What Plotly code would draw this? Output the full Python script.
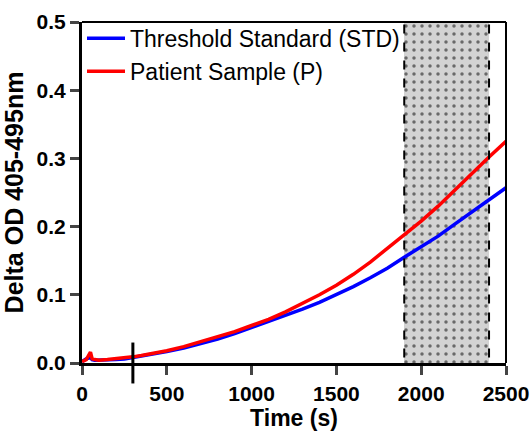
import plotly.graph_objects as go

time_s = [0, 25, 50, 60, 75, 100, 150, 200, 250, 300, 350, 400, 450, 500, 600, 700, 800, 900, 1000,
          1100, 1200, 1300, 1400, 1500, 1600, 1700, 1800, 1900, 2000, 2100, 2200, 2300, 2400, 2500]
std_vals = [0.002, 0.006, 0.008, 0.005, 0.004, 0.004, 0.004, 0.005, 0.006, 0.008, 0.010, 0.012, 0.015,
            0.017, 0.022, 0.028, 0.035, 0.043, 0.052, 0.060, 0.069, 0.079, 0.089, 0.100, 0.112, 0.125,
            0.139, 0.155, 0.170, 0.186, 0.204, 0.222, 0.239, 0.257]
p_vals = [0.002, 0.005, 0.016, 0.006, 0.005, 0.004, 0.005, 0.006, 0.007, 0.009, 0.011, 0.013, 0.016,
          0.018, 0.024, 0.031, 0.039, 0.046, 0.055, 0.064, 0.075, 0.087, 0.100, 0.114, 0.130, 0.148,
          0.168, 0.189, 0.208, 0.230, 0.254, 0.279, 0.302, 0.325]
band = [1900, 2400]
marker_time = 300
x_ticks = [0, 500, 1000, 1500, 2000, 2500]
y_ticks = [0.0, 0.1, 0.2, 0.3, 0.4, 0.5]
y_tick_text = ["0.0", "0.1", "0.2", "0.3", "0.4", "0.5"]

FONT = "Liberation Sans, Arial, sans-serif"

fig = go.Figure()
# shaded dotted band
fig.add_trace(go.Bar(
    x=[(band[0] + band[1]) / 2], y=[0.5], base=0, width=[band[1] - band[0]],
    marker=dict(color="#d3d3d3", line=dict(width=0),
                pattern=dict(shape=".", fgcolor="black", bgcolor="#d3d3d3", size=8, solidity=0.15)),
    showlegend=False, hoverinfo="skip"))
fig.add_trace(go.Scatter(x=time_s, y=std_vals, mode="lines", name="Threshold Standard (STD)",
                         line=dict(color="#0000ff", width=3.5), legendgroup="a"))
fig.add_trace(go.Scatter(x=time_s, y=p_vals, mode="lines", name="Patient Sample (P)",
                         line=dict(color="#ff0000", width=3.5), legendgroup="b"))

for bx in band:
    fig.add_shape(type="line", x0=bx, x1=bx, y0=0.008, y1=0.5, xref="x", yref="y",
                  line=dict(color="black", width=2, dash="dash"))
fig.add_shape(type="line", x0=marker_time, x1=marker_time, y0=-0.06, y1=0.06, xref="x", yref="paper",
              line=dict(color="black", width=3))
# top & right borders
fig.add_shape(type="line", x0=0, x1=1, y0=1, y1=1, xref="paper", yref="paper",
              line=dict(color="black", width=2))
fig.add_shape(type="line", x0=1, x1=1, y0=0, y1=1, xref="paper", yref="paper",
              line=dict(color="black", width=2))

fig.update_layout(
    width=530, height=445,
    margin=dict(l=82, r=24, t=22, b=82, autoexpand=False),
    plot_bgcolor="white", paper_bgcolor="white",
    font=dict(family=FONT, color="black"),
    bargap=0,
    legend=dict(x=0.0, y=1.015, xanchor="left", yanchor="top", bgcolor="rgba(0,0,0,0)",
                font=dict(size=23, family=FONT), itemwidth=38, tracegroupgap=0,
                traceorder="normal"),
    xaxis=dict(range=[0, 2500], tickvals=x_ticks, ticks="outside", ticklen=9, tickwidth=3,
               showline=True, linewidth=3, linecolor="black", showgrid=False, zeroline=False,
               automargin=False, ticklabelstandoff=1,
               tickfont=dict(size=21, family=FONT, weight="bold"),
               title=dict(text="Time (s)", font=dict(size=23, family=FONT, weight="bold"), standoff=1)),
    yaxis=dict(range=[0, 0.5], tickvals=y_ticks, ticktext=y_tick_text, ticks="outside", ticklen=9,
               tickwidth=3, showline=True, linewidth=3, linecolor="black", showgrid=False, zeroline=False,
               automargin=False,
               tickfont=dict(size=21, family=FONT, weight="bold"),
               title=dict(text="Delta OD 405-495nm", font=dict(size=25, family=FONT, weight="bold"), standoff=6)),
)

fig.write_html("out.html", post_script="document.body.style.margin='0';",
               config={"displayModeBar": False})
